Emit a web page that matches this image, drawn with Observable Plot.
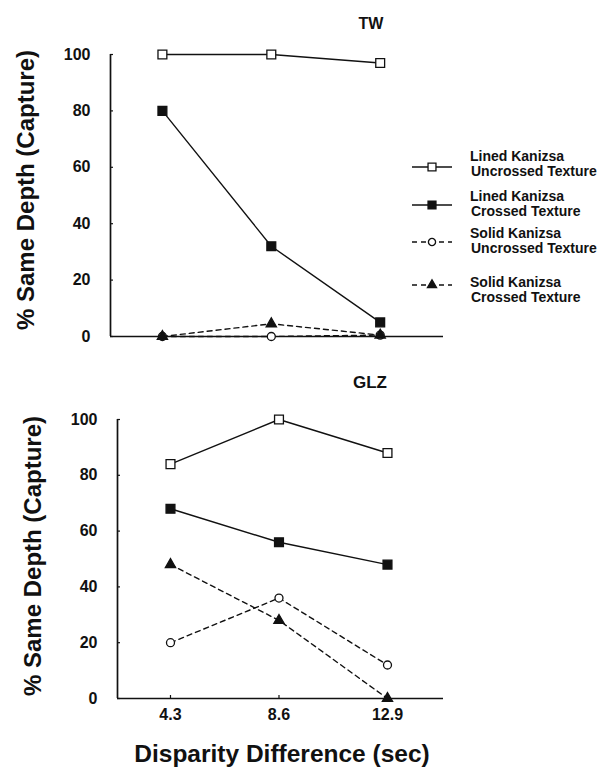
<!DOCTYPE html>
<html><head><meta charset="utf-8">
<script src="https://cdn.jsdelivr.net/npm/d3@7"></script>
<script src="https://cdn.jsdelivr.net/npm/@observablehq/plot@0.6"></script>
<style>
body{margin:0;background:#fff;}
#wrap{position:relative;width:610px;height:770px;overflow:hidden;background:#fff;color:#111;}
#wrap svg.plot{position:absolute;left:0;}
#overlay{position:absolute;left:0;top:0;}
</style></head><body><div id="wrap"></div>
<script>
// ---- data ----
const disparity = [4.3, 8.6, 12.9];
const xTicks = [4.3, 8.6, 12.9];
const yTicks = [0, 20, 40, 60, 80, 100];
const seriesKeys = ["LU", "LC", "SU", "SC"];
const seriesLine1 = ["Lined Kanizsa", "Lined Kanizsa", "Solid Kanizsa", "Solid Kanizsa"];
const seriesLine2 = ["Uncrossed Texture", "Crossed Texture", "Uncrossed Texture", "Crossed Texture"];
const twLinedUncrossed = [100, 100, 97];
const twLinedCrossed = [80, 32, 5];
const twSolidUncrossed = [0, 0, 0.5];
const twSolidCrossed = [0, 4.5, 0.5];
const glzLinedUncrossed = [84, 100, 88];
const glzLinedCrossed = [68, 56, 48];
const glzSolidUncrossed = [20, 36, 12];
const glzSolidCrossed = [48, 28, 0];
const panelTitles = ["TW", "GLZ"];
const yLabel = "% Same Depth (Capture)";
const xLabel = "Disparity Difference (sec)";

// ---- styles ----
const styles = {
  LU: {symbol: "square", fill: "white", dash: null, r: 5},
  LC: {symbol: "square", fill: "#111", dash: null, r: 5},
  SU: {symbol: "circle", fill: "white", dash: "5,4", r: 4},
  SC: {symbol: "triangle", fill: "#111", dash: "5,4", r: 3.8}
};

function rowsFor(values) {
  const out = [];
  values.forEach((vals, si) => vals.forEach((v, i) => out.push({s: seriesKeys[si], x: disparity[i], y: v})));
  return out;
}
const twRows = rowsFor([twLinedUncrossed, twLinedCrossed, twSolidUncrossed, twSolidCrossed]);
const glzRows = rowsFor([glzLinedUncrossed, glzLinedCrossed, glzSolidUncrossed, glzSolidCrossed]);

const W = 460;
function panel({rows, marginLeft, marginTop, plotBottom, height, xDomain, showX}) {
  const marks = [
    Plot.ruleY([0], {stroke: "#111", strokeWidth: 1.7}),
    Plot.ruleX([xDomain[0]], {stroke: "#111", strokeWidth: 1.7}),
    Plot.axisY({ticks: yTicks, tickSize: -3, tickFormat: () => "", label: null, strokeWidth: 1.2}),
    Plot.axisY({ticks: yTicks, tickSize: 0, tickPadding: 20, tickFormat: d => d, label: null,
      fontSize: 16, fontWeight: "bold"})
  ];
  if (showX) marks.push(
    Plot.axisX({ticks: xTicks, tickSize: -3, tickFormat: () => "", label: null, strokeWidth: 1.2}),
    Plot.axisX({ticks: xTicks, tickSize: 0, tickPadding: 10, tickFormat: d => d.toFixed(1),
      label: null, fontSize: 16, fontWeight: "bold"}));
  else marks.push(Plot.axisX({ticks: [], label: null}));
  for (const k of seriesKeys) {
    const st = styles[k];
    const data = rows.filter(d => d.s === k);
    marks.push(Plot.line(data, {x: "x", y: "y", stroke: "#111", strokeWidth: 1.4, strokeDasharray: st.dash}));
  }
  for (const k of seriesKeys) {
    const st = styles[k];
    const data = rows.filter(d => d.s === k);
    marks.push(Plot.dot(data, {x: "x", y: "y", symbol: st.symbol, r: st.r, fill: st.fill, stroke: "#111", strokeWidth: 1.3}));
  }
  const svg = Plot.plot({
    width: W, height, marginLeft, marginRight: W - 443, marginTop, marginBottom: height - plotBottom,
    x: {domain: xDomain}, y: {domain: [0, 100]},
    style: {fontFamily: "'Liberation Sans',Arial,sans-serif", color: "#111", background: "transparent"},
    marks
  });
  svg.classList.add("plot");
  return svg;
}

const wrap = document.getElementById("wrap");
const top1 = panel({rows: twRows, marginLeft: 110, marginTop: 54, plotBottom: 336, height: 350, xDomain: [2.25, 15.4], showX: false});
top1.style.top = "0px";
wrap.appendChild(top1);
const top2 = panel({rows: glzRows, marginLeft: 117, marginTop: 59, plotBottom: 338, height: 372, xDomain: [2.2, 15.12], showX: true});
top2.style.top = "360px";
wrap.appendChild(top2);

// ---- overlay texts & legend ----
const ov = d3.select(wrap).append("svg").attr("id", "overlay").attr("width", 610).attr("height", 770)
  .style("font-family", "'Liberation Sans',Arial,sans-serif").style("font-weight", "bold").attr("fill", "#111");
ov.append("text").attr("x", 371).attr("y", 29).attr("text-anchor", "middle").attr("font-size", 16).text(panelTitles[0]);
ov.append("text").attr("x", 370).attr("y", 388).attr("text-anchor", "middle").attr("font-size", 17).text(panelTitles[1]);
ov.append("text").attr("transform", "translate(25,190) rotate(-90)").attr("text-anchor", "middle")
  .attr("dominant-baseline", "central").attr("font-size", 24).text(yLabel);
ov.append("text").attr("transform", "translate(32,556) rotate(-90)").attr("text-anchor", "middle")
  .attr("dominant-baseline", "central").attr("font-size", 24).text(yLabel);
ov.append("text").attr("x", 282).attr("y", 762).attr("text-anchor", "middle").attr("font-size", 24.5).text(xLabel);

const legY = [167, 205, 242, 285];
const legT1 = [161, 201, 238, 287];
const symMap = {square: d3.symbolSquare, circle: d3.symbolCircle, triangle: d3.symbolTriangle};
seriesKeys.forEach((k, i) => {
  const st = styles[k];
  ov.append("line").attr("x1", 412).attr("x2", 452).attr("y1", legY[i]).attr("y2", legY[i])
    .attr("stroke", "#111").attr("stroke-width", 1.4).attr("stroke-dasharray", st.dash);
  ov.append("path").attr("d", d3.symbol(symMap[st.symbol], Math.PI * st.r * st.r * 0.8)())
    .attr("transform", `translate(432,${legY[i]})`).attr("fill", st.fill).attr("stroke", "#111").attr("stroke-width", 1.3);
  ov.append("text").attr("x", 470).attr("y", legT1[i]).attr("font-size", 14).text(seriesLine1[i]);
  ov.append("text").attr("x", 471).attr("y", legT1[i] + 15).attr("font-size", 14).text(seriesLine2[i]);
});
</script></body></html>
